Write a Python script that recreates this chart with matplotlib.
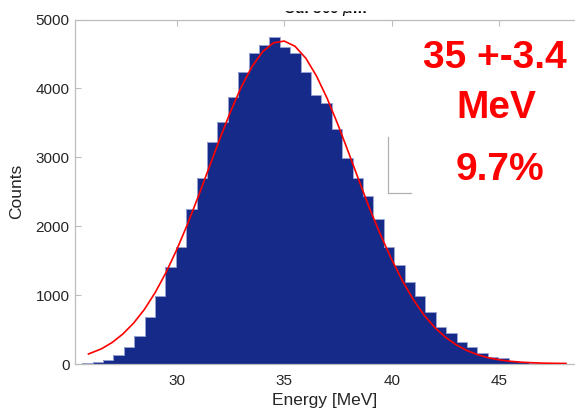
import numpy as np
import matplotlib
matplotlib.use("Agg")
import matplotlib.pyplot as plt
from matplotlib.patches import Rectangle

plt.rcParams["font.family"] = ["Liberation Sans", "DejaVu Sans"]

# Histogram of the proton energies (bin width ~0.48 MeV)
bin_start = 25.61
bin_width = 0.4834
counts = [19, 33, 53, 130, 251, 411, 686, 991, 1402, 1702, 2244, 2694, 3220,
          3510, 3868, 4240, 4507, 4623, 4743, 4594, 4521, 4240, 3897, 3790,
          3404, 2984, 2703, 2442, 2099, 1702, 1436, 1189, 991, 759, 537, 445,
          315, 242, 155, 102, 82, 40, 28, 15, 9, 5, 3]

# Gaussian fit, sampled along the energy axis
fit_energy = [25.9, 26.5, 27.0, 27.5, 28.0, 28.5, 29.0, 29.5, 30.0, 30.5,
              31.0, 31.5, 32.0, 32.5, 33.0, 33.5, 34.0, 34.5, 35.0, 35.5,
              36.0, 36.5, 37.0, 37.5, 38.0, 38.5, 39.0, 39.5, 40.0, 40.5,
              41.0, 41.5, 42.0, 42.5, 43.0, 43.5, 44.0, 44.5, 45.0, 45.5,
              46.0, 46.5, 47.0, 47.5, 48.1]
fit_counts = [145, 220, 312, 436, 594, 792, 1036, 1325, 1656, 2026,
              2427, 2845, 3262, 3660, 4018, 4315, 4534, 4661, 4687, 4612,
              4440, 4181, 3853, 3473, 3063, 2643, 2232, 1860, 1515, 1205,
              935, 710, 530, 388, 278, 195, 134, 90, 60, 40,
              27, 19, 13, 10, 8]

x_ticks = [30, 35, 40, 45]
y_ticks = [0, 1000, 2000, 3000, 4000, 5000]

mean_label = "35 +-3.4"
unit_label = "MeV"
spread_label = "9.7%"

BAR_COLOR = "#162a8a"
EDGE_COLOR = "#9aa3d2"
AXIS_GREY = "#bdbdbd"
TEXT_DARK = "#262626"

fig = plt.figure(figsize=(5.75, 4.16), dpi=100)
ax = fig.add_axes([75 / 575, 1 - 364 / 416, 500 / 575, (364 - 19.5) / 416])

edges = bin_start + bin_width * np.arange(len(counts) + 1)
ax.stairs(counts, edges, fill=True, color=BAR_COLOR, zorder=2)
ax.stairs(counts, edges, color=EDGE_COLOR, linewidth=0.7, zorder=2.5)
ax.plot(fit_energy, fit_counts, color="red", linewidth=1.2, zorder=3)

ax.set_xlim(25.274, 48.52)
ax.set_ylim(0, 5000)
ax.set_xticks(x_ticks)
ax.set_yticks(y_ticks)

for side in ["left", "top", "bottom"]:
    ax.spines[side].set_color(AXIS_GREY)
    ax.spines[side].set_linewidth(0.9)
ax.spines["right"].set_visible(False)

ax.tick_params(axis="both", direction="in", length=4.5, width=0.8,
               color=AXIS_GREY, labelcolor=TEXT_DARK, labelsize=11)
ax.tick_params(axis="x", top=True, pad=7)
ax.tick_params(axis="y", pad=4)

ax.set_xlabel("Energy [MeV]", fontsize=12.5, color=TEXT_DARK, labelpad=4)
ax.set_ylabel("Counts", fontsize=12.5, color=TEXT_DARK, labelpad=8)

# title sits mostly above the frame, only its lower edge shows
ax.text(0.5, 1 + 6.5 / 344.5, r"Cu: 300 $\mu$m", transform=ax.transAxes,
        ha="center", va="baseline", fontsize=11, fontweight="bold",
        color="black")
fig.add_artist(Rectangle((0, 1 - 10 / 416), 1, 10 / 416,
                         transform=fig.transFigure, color="white", zorder=10))

# leftover frame corner next to the falling edge
fig.add_artist(plt.Line2D([387.5 / 575, 387.5 / 575, 410.7 / 575],
                          [1 - 137 / 416, 1 - 193 / 416, 1 - 193 / 416],
                          transform=fig.transFigure, color="#b0b0b0",
                          linewidth=0.9))

red_kw = dict(ha="center", va="baseline", fontsize=28, fontweight="bold",
              color="#ff0000")
fig.text(495 / 575, 1 - 68 / 416, mean_label, **red_kw)
fig.text(496.7 / 575, 1 - 118 / 416, unit_label, **red_kw)
fig.text(500 / 575, 1 - 180 / 416, spread_label, **red_kw)

fig.savefig("out.png", dpi=100)
